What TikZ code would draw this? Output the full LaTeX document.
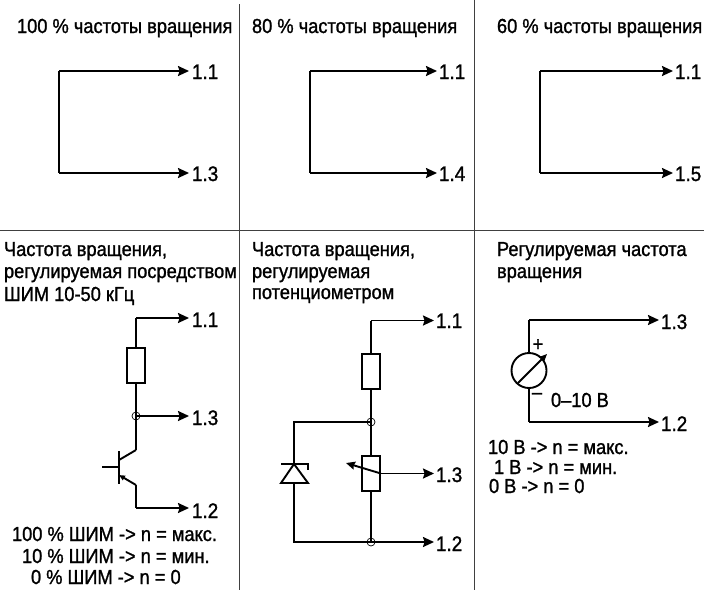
\documentclass[tikz,border=0pt]{standalone}
\usepackage{fontspec}
\setmainfont[FakeStretch=0.9,FakeBold=1.2]{Liberation Sans}
\usetikzlibrary{arrows.meta}
\newcommand{\tfs}{\fontsize{20.3}{20.3}\selectfont}
\newcommand{\lfs}{\fontsize{21}{21}\selectfont}
\tikzset{
  wire/.style={line width=1.9pt,line join=miter},
  go/.style={wire,-{Stealth[length=11pt,width=10pt,inset=1.5pt]}},
  divider/.style={line width=0.9pt,draw=black!75},
  txt/.style={anchor=base west,inner sep=0pt,outer sep=0pt,font=\tfs,text=black},
  pin/.style={anchor=base west,inner sep=0pt,outer sep=0pt,font=\lfs,text=black},
  dot/.style={circle,draw,line width=0.7pt,minimum size=8pt,inner sep=0pt},
  res/.style={draw,line width=1.9pt,minimum width=18pt,minimum height=35pt,inner sep=0pt}
}
\begin{document}
\begin{tikzpicture}[x=1pt,y=-1pt]
\useasboundingbox (0,0) rectangle (704,590);
% dividers
\coordinate (v1t) at (239,4); \coordinate (v1b) at (239,590);
\coordinate (v2t) at (474,0); \coordinate (v2b) at (474,590);
\coordinate (hl) at (0,230); \coordinate (hr) at (704,230);
\draw[divider] (v1t) -- (v1b);
\draw[divider] (v2t) -- (v2b);
\draw[divider] (hl) -- (hr);
% titles
\node[txt] (t1) at (17,33) {100 \% частоты вращения};
\node[txt] (t2) at (252,33) {80 \% частоты вращения};
\node[txt] (t3) at (497,33) {60 \% частоты вращения};
\node[txt] (t4a) at (4,256) {Частота вращения,};
\node[txt] (t4b) at (4,278) {регулируемая посредством};
\node[txt] (t4c) at (4,301) {ШИМ 10-50 кГц};
\node[txt] (t5a) at (252,256) {Частота вращения,};
\node[txt] (t5b) at (252,278) {регулируемая};
\node[txt] (t5c) at (252,299) {потенциометром};
\node[txt] (t6a) at (497,256) {Регулируемая частота};
\node[txt] (t6b) at (497,278) {вращения};
% panel 1
\node[pin] (p1a) at (192,79) {1.1};
\node[pin] (p1b) at (192,181) {1.3};
\coordinate (c1a) at (59,71); \coordinate (c1b) at (59,173);
\draw[wire] (c1a) -- (c1b);
\draw[go] (c1a) -- (189,71);
\draw[go] (c1b) -- (189,173);
% panel 2
\node[pin] (p2a) at (439,79) {1.1};
\node[pin] (p2b) at (439,181) {1.4};
\coordinate (c2a) at (310,71); \coordinate (c2b) at (310,173);
\draw[wire] (c2a) -- (c2b);
\draw[go] (c2a) -- (437,71);
\draw[go] (c2b) -- (437,173);
% panel 3
\node[pin] (p3a) at (675,79) {1.1};
\node[pin] (p3b) at (675,181) {1.5};
\coordinate (c3a) at (540,71); \coordinate (c3b) at (540,173);
\draw[wire] (c3a) -- (c3b);
\draw[go] (c3a) -- (673,71);
\draw[go] (c3b) -- (673,173);
% panel 4
\node[pin] (p4a) at (192,327) {1.1};
\node[pin] (p4b) at (192,425) {1.3};
\node[pin] (p4c) at (192,518) {1.2};
\node[res] (r4) at (136,365.5) {};
\node[dot] (j4) at (136,416) {};
\coordinate (t4top) at (136,318);
\coordinate (t4col) at (136,450);
\coordinate (t4em) at (136,485);
\coordinate (t4bot) at (136,508);
\draw[wire] (r4.north) -- (t4top);
\draw[go] (t4top) -- (189,318);
\draw[wire] (r4.south) -- (t4col);
\draw[go] (j4.center) -- (189,416);
\draw[wire] (119,451) -- (119,484);
\draw[wire] (102,467) -- (119,467);
\draw[wire] (119,460) -- (t4col);
\draw[wire,{Stealth[length=6pt,width=5pt,inset=0pt]}-] (119,475) -- (t4em);
\draw[wire] (t4em) -- (t4bot);
\draw[go] (t4bot) -- (189,508);
\node[txt] (n4a) at (12,541) {100 \% ШИМ -> n = макс.};
\node[txt] (n4b) at (22,563) {10 \% ШИМ -> n = мин.};
\node[txt] (n4c) at (31,584) {0 \% ШИМ -> n = 0};
% panel 5
\node[pin] (p5a) at (436,328) {1.1};
\node[pin] (p5b) at (436,482) {1.3};
\node[pin] (p5c) at (436,551) {1.2};
\node[res] (r5) at (371,371.5) {};
\node[res] (pot) at (371,473.5) {};
\node[dot] (j5a) at (371,422) {};
\node[dot] (j5b) at (371,542) {};
\coordinate (c5top) at (371,320.5);
\coordinate (c5l) at (294,422);
\coordinate (c5lb) at (294,542);
\draw[wire] (r5.north) -- (c5top);
\draw[go] (c5top) -- (434,320.5);
\draw[wire] (r5.south) -- (pot.north);
\draw[wire] (pot.south) -- (j5b.center);
\draw[wire] (j5a.center) -- (c5l) -- (c5lb) -- (j5b.center);
\draw[go] (j5b.center) -- (434,542);
\draw[go] (pot.east) -- (434,473.5);
\draw[wire,-{Stealth[length=9pt,width=8pt,inset=1pt]}] (pot.east) -- (346,463);
\draw[wire,fill=white] (294,464) -- (281,483) -- (308,483) -- cycle;
\draw[wire] (281,464) -- (308,464) -- (308,470);
% panel 6
\node[pin] (p6a) at (661,329) {1.3};
\node[pin] (p6b) at (661,431) {1.2};
\node[draw,circle,line width=1.9pt,minimum size=35pt,inner sep=0pt] (mt) at (529,370.5) {};
\coordinate (c6t) at (529,320); \coordinate (c6b) at (529,422);
\draw[wire] (mt.north) -- (c6t);
\draw[go] (c6t) -- (659,320);
\draw[wire] (mt.south) -- (c6b);
\draw[go] (c6b) -- (659,422);
\draw[wire,-{Stealth[length=8pt,width=7pt,inset=1pt]}] (518,383) -- (547,354);
\node[font=\tfs,inner sep=0pt] (pl) at (538,345) {+};
\node[font=\tfs,inner sep=0pt] (mi) at (537,396) {–};
\node[txt] (v6) at (551,407) {0–10 В};
\node[txt] (n6a) at (488,454) {10 В -> n = макс.};
\node[txt] (n6b) at (494,474) {1 В -> n = мин.};
\node[txt] (n6c) at (489,493) {0 В -> n = 0};
\end{tikzpicture}
\end{document}
